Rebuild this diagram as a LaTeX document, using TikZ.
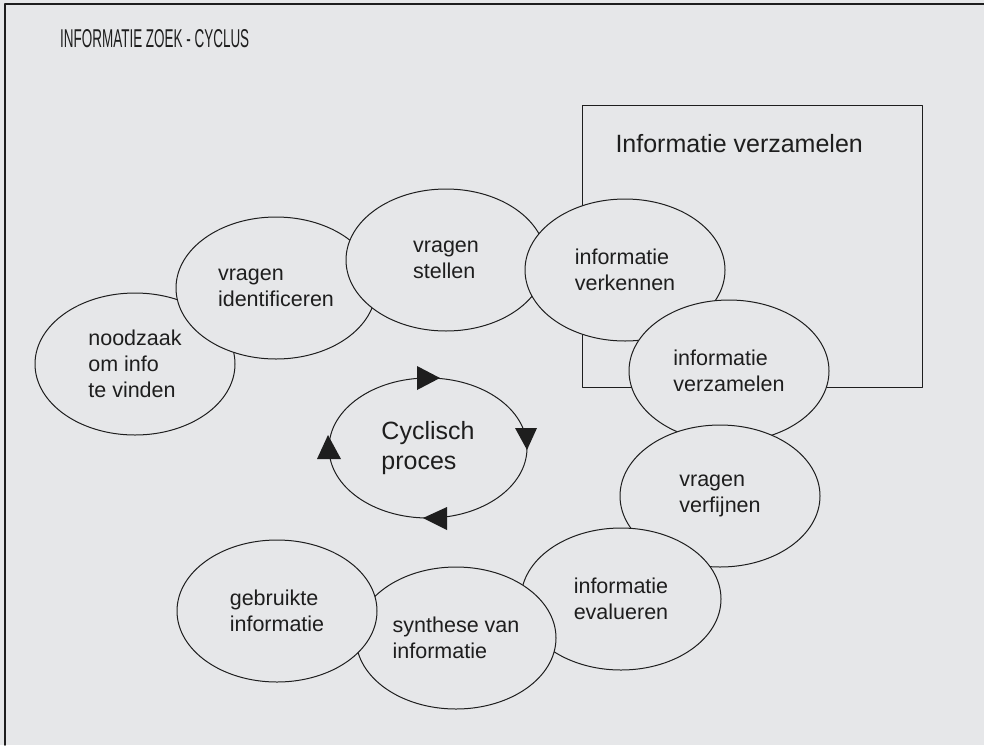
\documentclass[tikz,border=0pt]{standalone}
\usepackage{fontspec}
\setmainfont{Liberation Sans}
\usetikzlibrary{shapes.geometric}
\definecolor{paper}{RGB}{230,231,233}
\definecolor{ink}{RGB}{30,30,30}

\begin{document}
\begin{tikzpicture}[line cap=round,line join=round,x=1pt,y=-1pt,
  bubble/.style={ellipse,draw=ink,fill=paper,line width=1pt,minimum width=200pt,minimum height=142pt,
    inner sep=0pt,align=left,text=ink,font=\fontsize{21.5}{26}\selectfont},
  bigtext/.style={text=ink,font=\fontsize{25}{30}\selectfont}]
\useasboundingbox (0,0) rectangle (984,745);
\fill[paper] (0,0) rectangle (984,745);
\draw[ink,line width=1.5pt] (5,745) -- (5,4) -- (984,4);
\node[bigtext,anchor=base west,inner sep=0pt] (title) at (60,47) {\resizebox{189pt}{18pt}{INFORMATIE ZOEK - CYCLUS}};
% box behind the gathering steps
\node[draw=ink,line width=1pt,minimum width=340pt,minimum height=282pt,inner sep=0pt] (gatherbox) at (752,246) {};
\node[bigtext,anchor=base west] (gatherlabel) at (612,152) {Informatie verzamelen};
% the steps, each one drawn over the one before
\foreach \n/\x/\y/\lbl in {need/135/364/{noodzaak\\om info\\te vinden},
    ident/276/288/{vragen\\identificeren},
    ask/446/260/{vragen\\stellen},
    explore/625/270/{informatie\\verkennen},
    gather/729/371/{informatie\\verzamelen},
    refine/720/496/{vragen\\verfijnen},
    evaluate/621/599/{informatie\\evalueren},
    synth/456/638/{synthese van\\informatie},
    used/277/611/{gebruikte\\informatie}}
  \node[bubble] (\n) at (\x,\y) {\lbl};
% cycle in the middle
\node[bubble,minimum width=198pt,minimum height=140pt,font=\fontsize{25}{30}\selectfont] (cyc) at (428,448) {Cyclisch\\proces};
\begin{scope}[shift={(cyc.center)}]
\fill[ink] (-11,-82) -- (12,-70) -- (-11,-58) -- cycle;
\fill[ink] (87,-20) -- (109,-20) -- (99,2) -- cycle;
\fill[ink] (19,59) -- (19,82) -- (-5,70) -- cycle;
\fill[ink] (-111,11) -- (-87,11) -- (-100,-13) -- cycle;
\end{scope}
\end{tikzpicture}
\end{document}
